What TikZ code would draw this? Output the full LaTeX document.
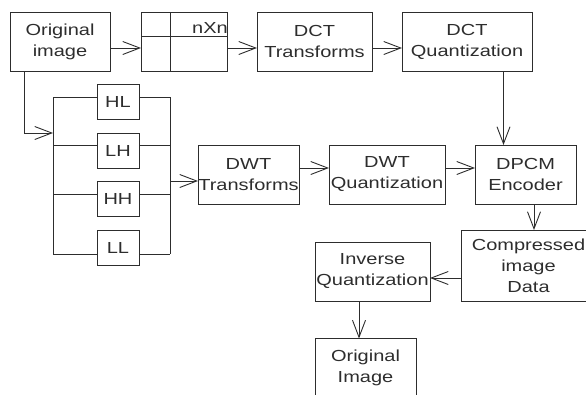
\documentclass[tikz,border=0pt]{standalone}
\usepackage{fontspec}
\setmainfont[FakeStretch=1.25]{Liberation Sans}
\usepackage{tikz}
\usetikzlibrary{
    arrows.meta,
    calc
}
\definecolor{LineGray}{RGB}{45,45,45}

\begin{document}
\begin{tikzpicture}[
    x=1pt,
    y=-1pt,
    block/.style={
        draw=LineGray,
        line width=0.9pt,
        inner sep=0pt,
        outer sep=0pt,
        align=center,
        text=LineGray,
        font=\fontsize{16}{21}\selectfont,
        minimum height=59pt
    },
    band/.style={
        block,
        minimum width=42pt,
        minimum height=35pt
    },
    wire/.style={
        draw=LineGray,
        line width=0.9pt
    },
    flow/.style={
        wire,
        -{Straight Barb[length=17pt,width=13pt]}
    }
]
%
    \useasboundingbox (0,0) rectangle (586,394);
    \clip (0,0) rectangle (586,394);
%
    % top row: DCT branch
    \node[block, minimum width=100pt] (orig) at (60,41.5) {Original\\image};
    \node[block, minimum width=86pt] (nxn) at (184,41.5) {};
    \node[block, minimum width=115pt] (dctt) at (314.5,41.5) {DCT\\Transforms};
    \node[block, minimum width=130pt] (dctq) at (467,41.5) {DCT\\Quantization};
%
    \draw[wire] (nxn.west |- 0,36) -- (nxn.east |- 0,36);
    \draw[wire] (170,12) -- (170,72);
    \node[
        anchor=base east,
        inner sep=0pt,
        text=LineGray,
        font=\fontsize{16}{21}\selectfont
    ] (nxnlbl) at (228,33) {nXn};
%
    % wavelet sub-bands
    \node[band] (hl) at (118,102) {HL};
    \node[band] (lh) at (118,150.5) {LH};
    \node[band] (hh) at (118,199) {HH};
    \node[band] (ll) at (118,247.5) {LL};
%
    \coordinate (busTL) at (53,97);
    \coordinate (busBL) at (53,254);
    \coordinate (busTR) at (170,97);
    \coordinate (busBR) at (170,254);
    \coordinate (busin) at (53,133);
    \coordinate (busout) at (170,181);
%
    \draw[wire] (busTL) -- (busBL);
    \draw[wire] (busTR) -- (busBR);
    \foreach \band/\dy in {hl/5, lh/5.5, hh/5, ll/-6.5}{
        \draw[wire]
        ([yshift=\dy pt]\band.west) -- ([yshift=\dy pt]\band.west -| busTL);
        \draw[wire]
        ([yshift=\dy pt]\band.east) -- ([yshift=\dy pt]\band.east -| busTR);
    }
%
    % middle row: DWT branch
    \node[block, minimum width=101pt] (dwtt) at (248.5,174.5) {DWT\\Transforms};
    \node[block, minimum width=116pt] (dwtq) at (387,174.5) {DWT\\Quantization};
    \node[block, minimum width=101pt] (dpcm) at (525.5,174.5) {DPCM\\Encoder};
%
    % decoding side
    \node[block, minimum width=135pt, minimum height=71pt] (comp) at (528.5,265.5) {Compressed\\image\\Data};
    \node[block, minimum width=115pt] (iq) at (372.5,271.5) {Inverse\\Quantization};
    \node[block, minimum width=101pt] (recon) at (365.5,368) {Original\\Image};
%
    % connectors
    \draw[flow] ([yshift=-6.5pt]orig.east) -- ([yshift=-6.5pt]nxn.west);
    \draw[flow] ([yshift=-6.5pt]nxn.east) -- ([yshift=-6.5pt]dctt.west);
    \draw[flow] ([yshift=-6.5pt]dctt.east) -- ([yshift=-6.5pt]dctq.west);
    \draw[flow] ([xshift=36.5pt]dctq.south) -- ([xshift=36.5pt]dctq.south |- dpcm.north);
%
    \draw[flow] ([xshift=-36pt]orig.south) |- (busin);
    \draw[flow] (busout) -- (busout -| dwtt.west);
%
    \draw[flow] ([yshift=6.5pt]dwtt.east) -- ([yshift=6.5pt]dwtq.west);
    \draw[flow] ([yshift=6.5pt]dwtq.east) -- ([yshift=6.5pt]dpcm.west);
    \draw[flow] ([xshift=8.5pt]dpcm.south) -- ([xshift=8.5pt]dpcm.south |- comp.north);
%
    \draw[flow] ([yshift=-12.5pt]comp.west) -- ([yshift=-12.5pt]comp.west -| iq.east);
    \draw[flow] ([xshift=-13.5pt]iq.south) -- ([xshift=-13.5pt]iq.south |- recon.north);
%
\end{tikzpicture}
\end{document}
